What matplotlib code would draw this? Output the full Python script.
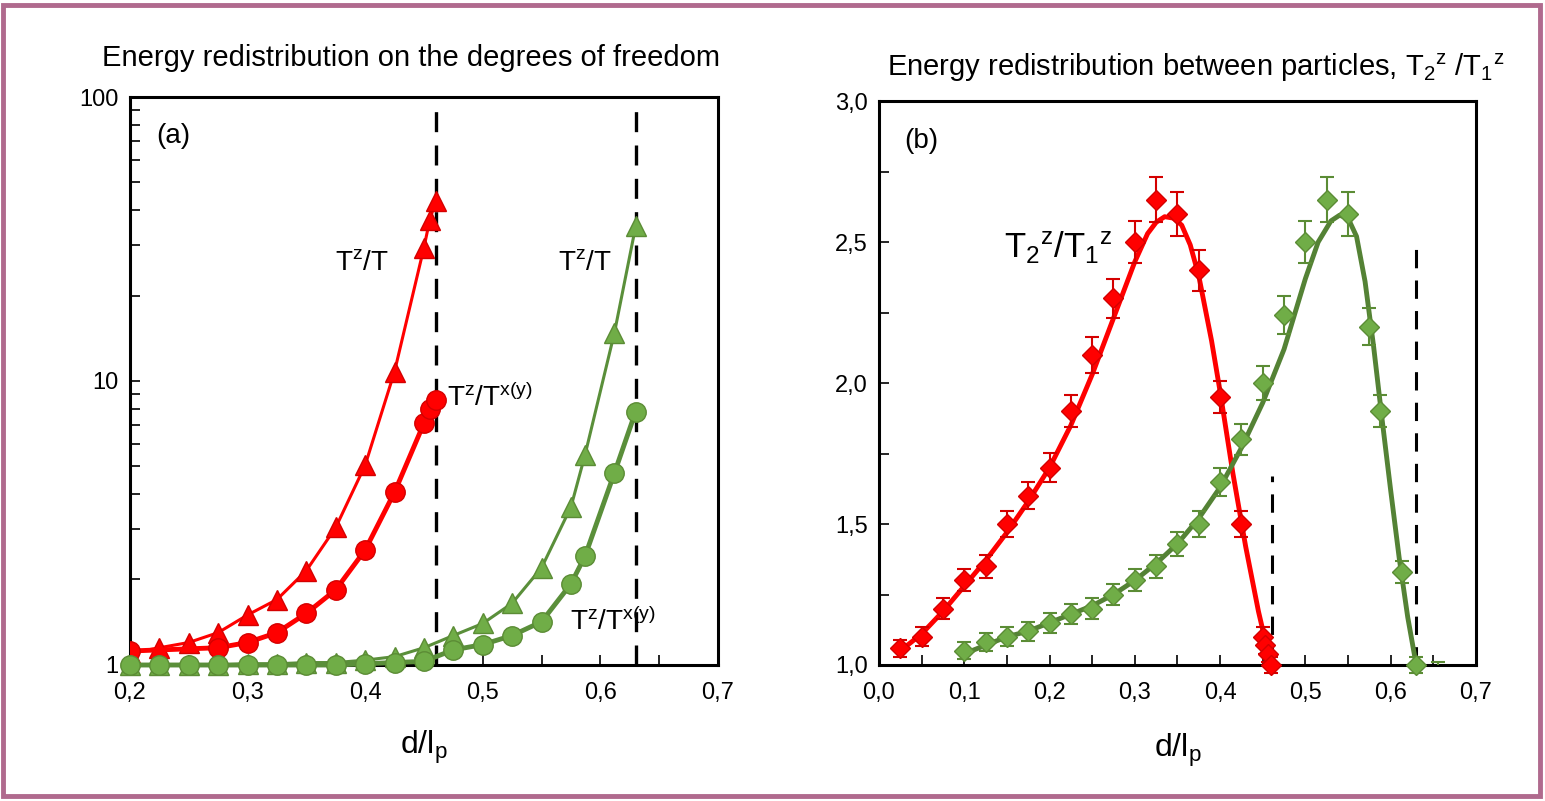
import matplotlib

matplotlib.use("Agg")

import matplotlib.pyplot as plt
import matplotlib.ticker as mticker
from matplotlib.patches import Rectangle

plt.rcParams["font.family"] = ["Liberation Sans", "DejaVu Sans"]
plt.rcParams["mathtext.fontset"] = "custom"
plt.rcParams["mathtext.rm"] = "Liberation Sans"
plt.rcParams["mathtext.it"] = "Liberation Sans"
plt.rcParams["mathtext.bf"] = "Liberation Sans:bold"

# ---- panel (a): energy redistribution on degrees of freedom (log scale)
red_x = [0.2, 0.225, 0.25, 0.275, 0.3, 0.325, 0.35, 0.375, 0.4, 0.425, 0.45, 0.455, 0.46]
red_tz_t = [1.1, 1.15, 1.2, 1.3, 1.5, 1.7, 2.15, 3.05, 5.05, 10.8, 29.5, 37.0, 43.0]
red_circ_x = [0.2, 0.275, 0.3, 0.325, 0.35, 0.375, 0.4, 0.425, 0.45, 0.455, 0.46]
red_tz_txy = [1.12, 1.15, 1.2, 1.3, 1.52, 1.84, 2.54, 4.06, 7.1, 8.0, 8.6]

green_x = [0.2, 0.225, 0.25, 0.275, 0.3, 0.325, 0.35, 0.375, 0.4, 0.425, 0.45,
           0.475, 0.5, 0.525, 0.55, 0.575, 0.587, 0.612, 0.63]
green_tz_t = [1.0, 1.0, 1.0, 1.0, 1.01, 1.01, 1.02, 1.02, 1.04, 1.07, 1.15,
              1.27, 1.4, 1.65, 2.2, 3.6, 5.5, 14.8, 35.0]
green_tz_txy = [1.0, 1.0, 1.0, 1.0, 1.0, 1.0, 1.0, 1.0, 1.01, 1.02, 1.03,
                1.13, 1.18, 1.27, 1.42, 1.93, 2.42, 4.75, 7.8]

limits_a = [0.46, 0.63]

# ---- panel (b): energy redistribution between particles
red_b_x = [0.025, 0.05, 0.075, 0.1, 0.125, 0.15, 0.175, 0.2, 0.225, 0.25, 0.275,
           0.3, 0.325, 0.35, 0.375, 0.4, 0.425, 0.45, 0.453, 0.456, 0.46]
red_b_y = [1.06, 1.10, 1.20, 1.30, 1.35, 1.50, 1.60, 1.70, 1.90, 2.10, 2.30,
           2.50, 2.65, 2.60, 2.40, 1.95, 1.50, 1.10, 1.07, 1.04, 1.00]
red_b_err = [0.03, 0.033, 0.036, 0.039, 0.04, 0.045, 0.048, 0.051, 0.057, 0.063, 0.069,
             0.075, 0.08, 0.078, 0.072, 0.058, 0.045, 0.033, 0.032, 0.031, 0.03]
red_fit_x = [0.025, 0.05, 0.075, 0.1, 0.125, 0.15, 0.175, 0.2, 0.225, 0.25, 0.275,
             0.3, 0.315, 0.325, 0.335, 0.345, 0.355, 0.365, 0.375, 0.39, 0.4,
             0.415, 0.43, 0.445, 0.455, 0.46]
red_fit_y = [1.05, 1.11, 1.19, 1.28, 1.37, 1.47, 1.58, 1.70, 1.85, 2.03, 2.23,
             2.43, 2.53, 2.57, 2.59, 2.585, 2.56, 2.49, 2.38, 2.15, 1.97,
             1.68, 1.42, 1.19, 1.06, 1.0]

green_b_x = [0.1, 0.125, 0.15, 0.175, 0.2, 0.225, 0.25, 0.275, 0.3, 0.325, 0.35, 0.375,
             0.4, 0.425, 0.45, 0.475, 0.5, 0.525, 0.55, 0.575, 0.588, 0.613, 0.63]
green_b_y = [1.05, 1.08, 1.10, 1.12, 1.15, 1.18, 1.20, 1.25, 1.30, 1.35, 1.43, 1.50,
             1.65, 1.80, 2.00, 2.24, 2.50, 2.65, 2.60, 2.20, 1.90, 1.33, 1.00]
green_b_err = [0.03, 0.032, 0.033, 0.034, 0.035, 0.035, 0.036, 0.038, 0.039, 0.04, 0.043, 0.045,
               0.05, 0.054, 0.06, 0.067, 0.075, 0.08, 0.078, 0.066, 0.057, 0.04, 0.03]
green_fit_x = [0.1, 0.125, 0.15, 0.175, 0.2, 0.225, 0.25, 0.275, 0.3, 0.325, 0.35, 0.375,
               0.4, 0.425, 0.45, 0.475, 0.5, 0.515, 0.53, 0.54, 0.55, 0.56, 0.57,
               0.58, 0.59, 0.6, 0.61, 0.62, 0.63]
green_fit_y = [1.04, 1.07, 1.10, 1.12, 1.15, 1.18, 1.21, 1.25, 1.30, 1.36, 1.43, 1.52,
               1.63, 1.77, 1.93, 2.12, 2.37, 2.50, 2.575, 2.595, 2.585, 2.52, 2.36,
               2.13, 1.87, 1.62, 1.38, 1.17, 1.0]
green_tail_x = [0.655]
green_tail_y = [1.0]

limits_b = [(0.461, 1.67), (0.63, 2.5)]

RED = "#ff0000"
RED_EDGE = "#d40000"
GREEN = "#70ad47"
GREEN_EDGE = "#5b8c35"
GREEN_LINE = "#5a8f3a"
FIT_GREEN = "#548235"


def comma(v, _pos):
    return f"{v:.1f}".replace(".", ",")


fig = plt.figure(figsize=(15.45, 8.01), dpi=100)
fig.patches.append(Rectangle((0.002, 0.006), 0.995, 0.988, transform=fig.transFigure,
                             fill=False, edgecolor="#b06a8e", linewidth=3.5))

# ---------------- panel (a)
ax = fig.add_axes([0.0841, 0.1698, 0.3806, 0.7091])
ax.set_yscale("log")
ax.set_xlim(0.2, 0.7)
ax.set_ylim(1, 100)

ax.plot(red_x, red_tz_t, color=RED, lw=2.2, marker="^", ms=14,
        mfc=RED, mec=RED_EDGE, zorder=3)
ax.plot(red_circ_x, red_tz_txy, color=RED, lw=3.5, marker="o", ms=14,
        mfc=RED, mec=RED_EDGE, zorder=3)
ax.plot(green_x, green_tz_t, color=GREEN_LINE, lw=2.2, marker="^", ms=14,
        mfc=GREEN, mec=GREEN_EDGE, zorder=4, clip_on=False)
ax.plot(green_x, green_tz_txy, color=GREEN_LINE, lw=3.5, marker="o", ms=14,
        mfc=GREEN, mec=GREEN_EDGE, zorder=4, clip_on=False)
for xv in limits_a:
    ax.axvline(xv, color="black", lw=2.4, ls=(0, (6, 4)), zorder=2)

ax.text(0.374, 26, r"T$^z$/T", fontsize=20, va="center")
ax.text(0.47, 8.7, r"T$^z$/T$^{x(y)}$", fontsize=20, va="center")
ax.text(0.564, 26, r"T$^z$/T", fontsize=20, va="center")
ax.text(0.574, 1.42, r"T$^z$/T$^{x(y)}$", fontsize=20, va="center")
ax.text(0.222, 73, "(a)", fontsize=20, va="center")

ax.xaxis.set_major_locator(mticker.MultipleLocator(0.1))
ax.xaxis.set_minor_locator(mticker.MultipleLocator(0.05))
ax.xaxis.set_major_formatter(mticker.FuncFormatter(comma))
ax.yaxis.set_major_formatter(mticker.FuncFormatter(lambda v, p: f"{v:g}"))
ax.yaxis.set_minor_formatter(mticker.NullFormatter())
ax.tick_params(axis="both", which="both", direction="in", labelsize=17)
ax.tick_params(axis="x", which="major", length=7, width=1.2, pad=12)
ax.tick_params(axis="x", which="minor", length=7, width=1.2)
ax.tick_params(axis="y", which="major", length=7, width=1.2, pad=8)
ax.tick_params(axis="y", which="minor", length=7, width=1.2)
for s in ax.spines.values():
    s.set_linewidth(2.2)
ax.set_xlabel(r"d/l$_p$", fontsize=23, labelpad=18)
ax.set_title("Energy redistribution on the degrees of freedom", fontsize=21, pad=22, x=0.478)

# ---------------- panel (b)
bx = fig.add_axes([0.5689, 0.1698, 0.3864, 0.7040])
bx.set_xlim(0.0, 0.7)
bx.set_ylim(1.0, 3.0)

bx.plot(red_fit_x, red_fit_y, color=RED, lw=3.5, zorder=3)
bx.errorbar(red_b_x, red_b_y, yerr=red_b_err, fmt="D", ms=10, mfc=RED, mec=RED_EDGE,
            ecolor=RED_EDGE, elinewidth=1.5, capsize=5, capthick=1.5, zorder=4, clip_on=False)
bx.plot(green_fit_x, green_fit_y, color=FIT_GREEN, lw=3.5, zorder=3)
bx.errorbar(green_b_x, green_b_y, yerr=green_b_err, fmt="D", ms=10, mfc=GREEN, mec=GREEN_EDGE,
            ecolor=GREEN_EDGE, elinewidth=1.5, capsize=5, capthick=1.5, zorder=4, clip_on=False)
bx.errorbar(green_tail_x, green_tail_y, yerr=[0.012], fmt="none",
            ecolor=GREEN_EDGE, elinewidth=1.5, capsize=5, capthick=1.5, zorder=4)
for xv, top in limits_b:
    bx.plot([xv, xv], [1.0, top], color="black", lw=2.2, ls=(0, (6, 4)), zorder=2)

bx.text(0.147, 2.48, r"T$_2$$^z$/T$_1$$^z$", fontsize=25, va="center")
bx.text(0.03, 2.86, "(b)", fontsize=20, va="center")

bx.xaxis.set_major_locator(mticker.MultipleLocator(0.1))
bx.xaxis.set_minor_locator(mticker.MultipleLocator(0.05))
bx.yaxis.set_major_locator(mticker.MultipleLocator(0.5))
bx.yaxis.set_minor_locator(mticker.MultipleLocator(0.25))
bx.xaxis.set_major_formatter(mticker.FuncFormatter(comma))
bx.yaxis.set_major_formatter(mticker.FuncFormatter(comma))
bx.tick_params(axis="both", which="both", direction="in", labelsize=17, length=7, width=1.2)
bx.tick_params(axis="x", which="major", pad=12)
bx.tick_params(axis="y", which="major", pad=8)
for s in bx.spines.values():
    s.set_linewidth(2.2)
bx.set_xlabel(r"d/l$_p$", fontsize=23, labelpad=20)
bx.set_title(r"Energy redistribution between particles, T$_2$$^z$ /T$_1$$^z$",
             fontsize=21, pad=18, x=0.53)

fig.savefig("out.png", dpi=100)
